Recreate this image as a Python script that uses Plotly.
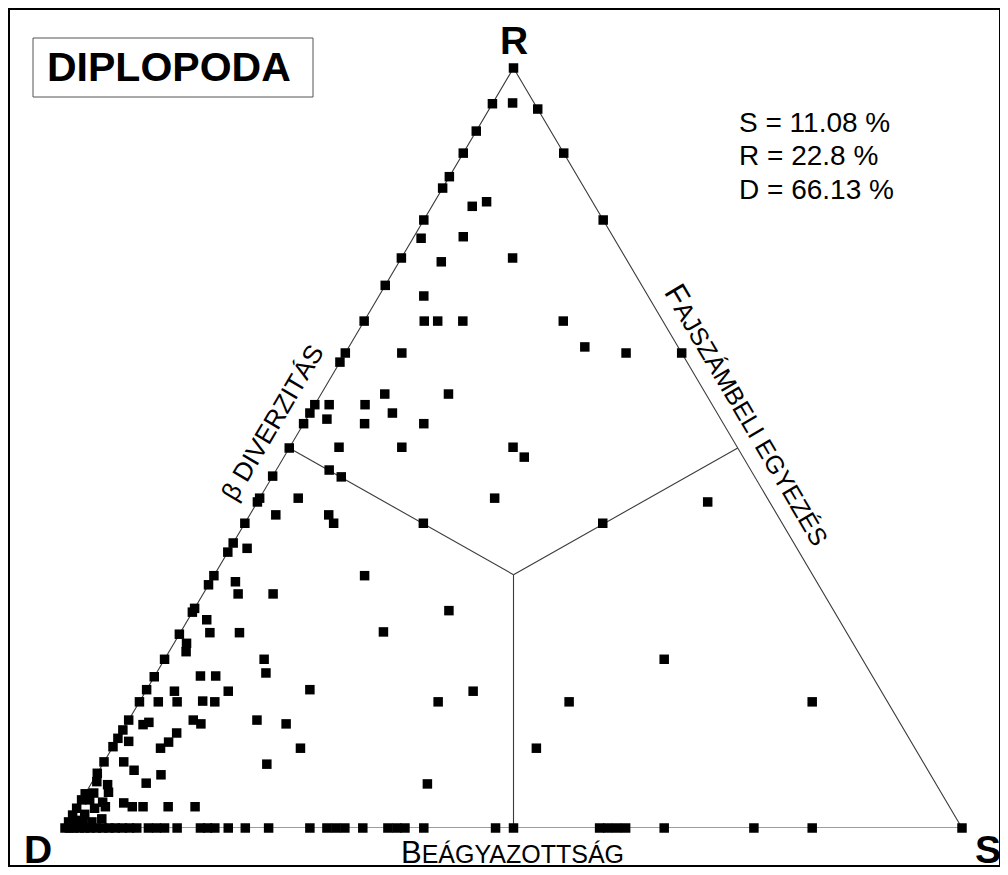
import plotly.graph_objects as go

# ---------------- data (percent): R = top, S = bottom-right, D = bottom-left ----------------
# points lying on the D–R side (S = 0)
edgeDR_R = [100, 95.3, 91.7, 88.8, 85.7, 84.2, 80.0, 75.0, 71.4, 66.7,
            62.5, 61.3, 55.7, 54.6, 53.2, 50.0, 46.3, 43.4, 42.9, 40.1,
            37.5, 36.3, 33.2, 32.0, 28.9, 28.4, 25.5, 22.2, 19.9, 18.2,
            16.6, 14.2, 12.9, 11.8, 10.7, 8.7, 7.2, 4.5, 3.7, 2.6,
            1.7, 0.8]
edgeDR_S = [0, 0, 0, 0, 0, 0, 0, 0, 0, 0,
            0, 0, 0, 0, 0, 0, 0, 0, 0, 0,
            0, 0, 0, 0, 0, 0, 0, 0, 0, 0,
            0, 0, 0, 0, 0, 0, 0, 0, 0, 0,
            0, 0]

# points lying on the R–S side (D = 0)
edgeRS_R = [94.6, 88.8, 80.0, 62.5, 0]
edgeRS_S = [5.4, 11.2, 20.0, 37.5, 100]

# points lying on the D–S side (R = 0)
edgeDS_S = [0, 0.5, 1.0, 1.6, 2.2, 2.8, 3.5, 4.2, 4.9, 5.6,
            6.4, 7.2, 8.0, 9.3, 10.2, 11.1, 12.5, 15.1, 15.9, 16.7,
            18.2, 20.1, 22.7, 27.3, 29.2, 30.2, 31.2, 33.2, 36.0, 37.0,
            37.9, 40.0, 48.0, 50.0, 59.6, 60.5, 61.5, 62.5, 66.8, 76.8,
            83.3]
edgeDS_R = [0, 0, 0, 0, 0, 0, 0, 0, 0, 0,
            0, 0, 0, 0, 0, 0, 0, 0, 0, 0,
            0, 0, 0, 0, 0, 0, 0, 0, 0, 0,
            0, 0, 0, 0, 0, 0, 0, 0, 0, 0,
            0]

# interior points
interior_R = [95.4, 82.4, 81.8, 77.6, 77.8, 74.5, 75.0, 70.0, 66.7, 66.7,
              66.7, 66.7, 63.3, 62.5, 62.5, 57.1, 57.1, 55.7, 55.7, 53.8,
              54.6, 53.2, 53.2, 50.1, 50.1, 50.1, 48.8, 47.1, 46.2, 43.4,
              43.4, 41.2, 41.2, 40.1, 40.1, 40.1, 42.9, 36.8, 33.2, 32.4,
              30.8, 30.8, 28.6, 27.4, 25.7, 25.7, 25.8, 24.3, 23.2, 22.2,
              22.2, 20.4, 20.0, 20.0, 18.0, 18.0, 18.2, 18.0, 16.6, 16.6,
              16.7, 16.6, 16.6, 16.6, 16.6, 13.6, 13.9, 14.2, 13.7, 14.2,
              13.7, 11.4, 12.5, 11.3, 10.5, 10.5, 10.5, 8.7, 7.6, 8.4,
              7.0, 6.1, 5.9, 5.7, 4.7, 4.6, 3.7, 3.4, 3.3, 2.8,
              2.8, 2.8, 2.8, 2.6, 2.8, 0.8, 5.8, 1.0, 0.8, 1.2,
              1.8]
interior_S = [2.2, 5.8, 4.5, 0.9, 5.5, 4.7, 12.4, 5.0, 6.7, 8.2,
              11.0, 22.2, 26.3, 31.3, 6.3, 7.1, 14.2, 1.6, 5.6, 2.3,
              9.2, 6.8, 13.4, 5.5, 12.5, 24.9, 26.8, 5.9, 7.7, 4.3,
              26.2, 2.9, 8.8, 9.9, 19.9, 39.9, 50.2, 1.9, 16.8, 2.8,
              3.9, 7.8, 28.5, 2.1, 3.3, 6.6, 22.6, 1.4, 1.9, 11.1,
              55.7, 12.2, 5.1, 6.8, 3.2, 9.2, 18.2, 36.5, 2.1, 4.2,
              7.0, 8.4, 33.3, 47.9, 75.0, 1.9, 2.4, 7.2, 8.3, 14.3,
              17.8, 1.4, 6.2, 5.9, 5.4, 21.0, 47.3, 2.2, 3.9, 18.3,
              7.2, 0.5, 6.1, 1.9, 2.5, 0.9, 0.9, 2.5, 4.9, 6.1,
              7.3, 10.1, 13.1, 2.0, 3.1, 1.6, 37.5, 0.9, 2.6, 3.5,
              1.3]

# triangle corners and region boundaries (R, S) in percent
triangle_R = [0, 0, 100, 0]
triangle_S = [0, 100, 0, 0]
centroid = (100 / 3, 100 / 3)
midpoints = [(50, 0), (50, 50), (0, 50)]

summary_lines = ["S = 11.08 %", "R = 22.8 %", "D = 66.13 %"]
title_text = "DIPLOPODA"

assert len(edgeDR_R) == len(edgeDR_S)
assert len(edgeDS_R) == len(edgeDS_S)
assert len(interior_R) == len(interior_S)

# ---------------- ternary -> cartesian (D at left, S at right, R on top) ----------------
def tx(r, s):
    return s + r / 2.0

def ty(r, s):
    return r

all_R = edgeDR_R + edgeRS_R + edgeDS_R + interior_R
all_S = edgeDR_S + edgeRS_S + edgeDS_S + interior_S

fig = go.Figure()

line_style = dict(color="#3a3a3a", width=1.1)

# triangle outline
fig.add_trace(go.Scatter(
    x=[tx(r, s) for r, s in zip(triangle_R, triangle_S)],
    y=[ty(r, s) for r, s in zip(triangle_R, triangle_S)],
    mode="lines", line=line_style, hoverinfo="skip", cliponaxis=False))

# region boundaries from centroid to side midpoints
for (mr, ms) in midpoints:
    fig.add_trace(go.Scatter(
        x=[tx(*centroid), tx(mr, ms)],
        y=[ty(*centroid), ty(mr, ms)],
        mode="lines", line=line_style, hoverinfo="skip", cliponaxis=False))

# data points
fig.add_trace(go.Scatter(
    x=[tx(r, s) for r, s in zip(all_R, all_S)],
    y=[ty(r, s) for r, s in zip(all_R, all_S)],
    mode="markers",
    marker=dict(symbol="square", size=9.5, color="black", line=dict(width=0)),
    cliponaxis=False,
    customdata=[[r, s, round(100 - r - s, 1)] for r, s in zip(all_R, all_S)],
    hovertemplate="R=%{customdata[0]}%<br>S=%{customdata[1]}%<br>D=%{customdata[2]}%<extra></extra>",
))

# ---------------- layout helpers (page pixel -> paper) ----------------
OFF = 8                      # default body margin of the html page
W, H = 1000, 867
L, T = 65 - OFF, 68 - OFF
R_, B = W - (962 - OFF), H - (828 - OFF)
PW, PH = W - L - R_, H - T - B

def px(x):
    return (x - OFF - L) / PW

def py(y):
    return (H - B - (y - OFF)) / PH

FONT = "Liberation Sans, Arial, Helvetica, sans-serif"
annotations = []

def add_text(text, x, y, size, bold=False, angle=0, xanchor="center", yanchor="middle"):
    annotations.append(dict(
        text=f"<b>{text}</b>" if bold else text,
        x=px(x), y=py(y), xref="paper", yref="paper",
        xanchor=xanchor, yanchor=yanchor, showarrow=False,
        textangle=angle, font=dict(family=FONT, size=size, color="black")))

# vertex labels
add_text("R", 514, 40, 39, bold=True)
add_text("D", 38, 849, 39, bold=True)
add_text("S", 988, 849, 39, bold=True)

# title in box
add_text(title_text, 169, 67, 41, bold=True)

# summary values
for i, line in enumerate(summary_lines):
    add_text(line, 737, 122 + i * 33.5, 28, xanchor="left")

# side labels (small caps style)
add_text("β DIVERZITÁS", 272, 423, 26, angle=-59.5)
add_text('<span style="font-size:31px">F</span>AJSZÁMBELI EGYEZÉS', 748, 414, 25, angle=59.5)
add_text('<span style="font-size:31px">B</span>EÁGYAZOTTSÁG', 512, 852, 25)

shapes = [
    # outer frame
    dict(type="rect", xref="paper", yref="paper",
         x0=px(9), x1=px(1000), y0=py(9), y1=py(866),
         line=dict(color="black", width=2), fillcolor="rgba(0,0,0,0)"),
    # title box
    dict(type="rect", xref="paper", yref="paper",
         x0=px(33), x1=px(313), y0=py(38), y1=py(97),
         line=dict(color="#555555", width=1), fillcolor="rgba(0,0,0,0)"),
]

fig.update_layout(
    width=W, height=H,
    margin=dict(l=L, r=R_, t=T, b=B, pad=0),
    paper_bgcolor="white", plot_bgcolor="white",
    showlegend=False,
    xaxis=dict(range=[0, 100], visible=False, fixedrange=True),
    yaxis=dict(range=[0, 100], visible=False, fixedrange=True),
    annotations=annotations,
    shapes=shapes,
)

fig.write_html("out.html")
